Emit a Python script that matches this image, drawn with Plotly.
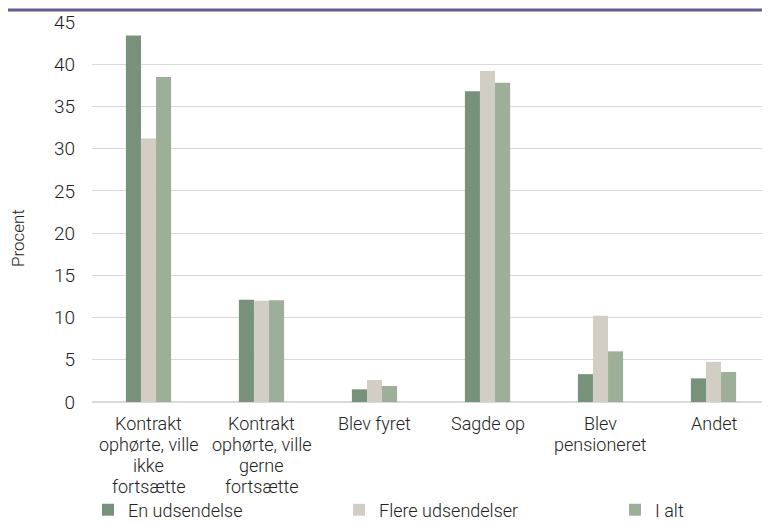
import plotly.graph_objects as go

categories = [
    "Kontrakt<br>ophørte, ville<br>ikke<br>fortsætte",
    "Kontrakt<br>ophørte, ville<br>gerne<br>fortsætte",
    "Blev fyret",
    "Sagde op",
    "Blev<br>pensioneret",
    "Andet",
]
series_names = ["En udsendelse", "Flere udsendelser", "I alt"]
en_udsendelse = [43.4, 12.1, 1.5, 36.8, 3.3, 2.8]
flere_udsendelser = [31.2, 12.0, 2.6, 39.2, 10.2, 4.75]
i_alt = [38.5, 12.05, 1.9, 37.8, 6.0, 3.55]
y_ticks = [0, 5, 10, 15, 20, 25, 30, 35, 40, 45]
y_title = "Procent"

colors = ["#78917a", "#d2cec3", "#9dae99"]
FONT = "Roboto, sans-serif"
TXT = "#222222"
W8 = 300

fig = go.Figure()
legends = ["legend", "legend2", "legend3"]
for name, vals, col, lg in zip(series_names, [en_udsendelse, flere_udsendelser, i_alt], colors, legends):
    fig.add_trace(go.Bar(x=categories, y=vals, name=name, marker_color=col,
                         marker_line_width=0, legend=lg, showlegend=True))

# page is drawn with an 8px body offset
OFF = 8
W, H = 770 - OFF, 522 - OFF
ml, mr, mt, mb = 92 - OFF, 0, 22 - OFF, 120
pw = W - ml - mr
ph = H - mt - mb

leg_common = dict(orientation="h", yanchor="middle", y=1 - (510 - OFF) / H, xanchor="left",
                  xref="container", yref="container",
                  font=dict(family=FONT, size=18, color=TXT, weight=W8),
                  bgcolor="rgba(0,0,0,0)", itemwidth=30, tracegroupgap=0)

# category labels, one text line at a time (tight line spacing as in the original)
LBL = 18
annotations = []
for cat in categories:
    for i, line in enumerate(cat.split("<br>")):
        annotations.append(dict(x=cat, xref="x", y=0, yref="paper", yanchor="middle",
                                yshift=-(21 + 21 * i), text=line, showarrow=False,
                                borderpad=0,
                                font=dict(family=FONT, size=LBL, color=TXT, weight=W8)))
annotations.append(dict(x=-(92 - 18) / pw, xref="paper", y=(402 - 238) / ph, yref="paper",
                        text=y_title, textangle=-90, showarrow=False, xanchor="center",
                        yanchor="middle", font=dict(family=FONT, size=17, color=TXT, weight=W8)))

fig.update_layout(
    width=W, height=H,
    showlegend=True,
    margin=dict(l=ml, r=mr, t=mt, b=mb, autoexpand=False),
    paper_bgcolor="white", plot_bgcolor="white",
    barmode="group", bargap=0.6, bargroupgap=0,
    font=dict(family=FONT, size=19, color=TXT, weight=W8),
    legend=dict(x=(88 - OFF) / W, **leg_common),
    legend2=dict(x=(339 - OFF) / W, **leg_common),
    legend3=dict(x=(615 - OFF) / W, **leg_common),
    xaxis=dict(showgrid=False, ticks="", showticklabels=False,
               showline=True, linecolor="#d9d9d9", automargin=False),
    yaxis=dict(range=[0, 45], tickvals=y_ticks, showgrid=True, gridcolor="#d9d9d9",
               gridwidth=1, zeroline=True, zerolinecolor="#d9d9d9", ticks="",
               ticklabelstandoff=16, tickfont=dict(size=19, color=TXT, weight=W8),
               automargin=False),
    annotations=annotations,
    shapes=[dict(type="line", xref="paper", yref="paper", x0=-0.2, x1=1.1,
                 y0=1 + 12 / ph, y1=1 + 12 / ph,
                 line=dict(color="#6b5b8f", width=3))],
)

fig.write_html("out.html")
